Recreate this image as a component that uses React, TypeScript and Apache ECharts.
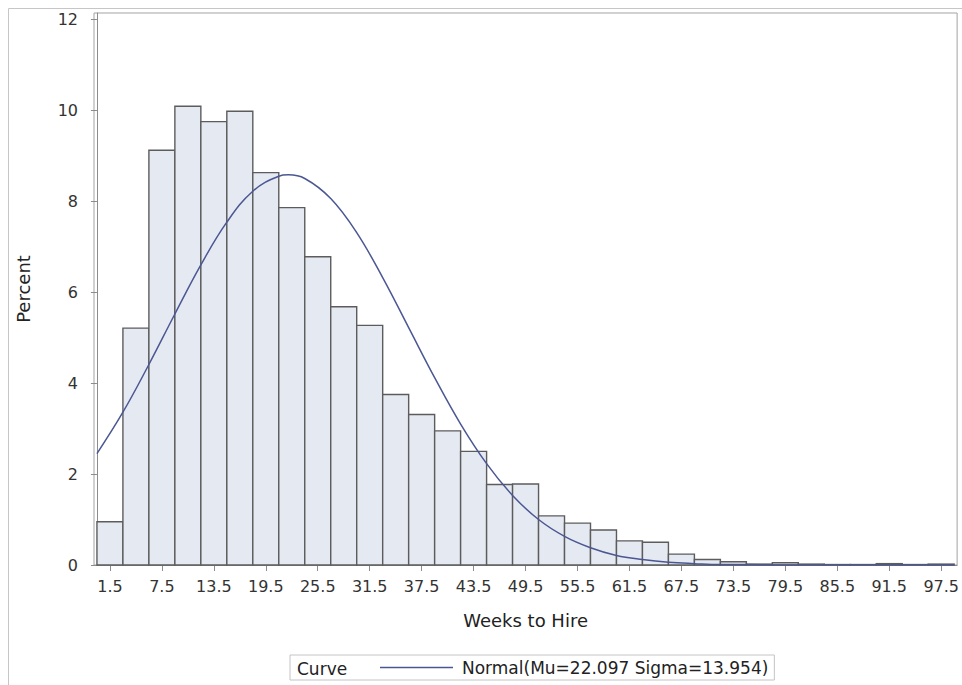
import React, { useEffect, useRef } from "react";
import * as echarts from "echarts";

const binCenters = [1.5, 4.5, 7.5, 10.5, 13.5, 16.5, 19.5, 22.5, 25.5, 28.5, 31.5, 34.5, 37.5, 40.5, 43.5, 46.5, 49.5, 52.5, 55.5, 58.5, 61.5, 64.5, 67.5, 70.5, 73.5, 76.5, 79.5, 82.5, 85.5, 88.5, 91.5, 94.5, 97.5];
const binPercent = [0.95, 5.21, 9.12, 10.09, 9.75, 9.98, 8.63, 7.86, 6.78, 5.68, 5.27, 3.75, 3.31, 2.95, 2.5, 1.77, 1.78, 1.08, 0.92, 0.77, 0.53, 0.5, 0.24, 0.12, 0.07, 0.02, 0.05, 0.02, 0.01, 0.01, 0.03, 0.01, 0.02];
const curveX = [0, 3, 6, 9, 12, 15, 18, 21, 22.1, 24, 27, 30, 33, 36, 39, 42, 45, 48, 51, 54, 57, 60, 63, 66, 69, 72, 75, 78, 81, 84, 87, 90, 93, 96, 99];
const curveY = [2.45, 3.36, 4.41, 5.52, 6.6, 7.54, 8.22, 8.55, 8.58, 8.5, 8.06, 7.31, 6.32, 5.22, 4.12, 3.1, 2.23, 1.53, 1.0, 0.63, 0.38, 0.21, 0.12, 0.06, 0.03, 0.01, 0.01, 0.0, 0.0, 0.0, 0.0, 0.0, 0.0, 0.0, 0.0];
const xTickLabels = [1.5, 7.5, 13.5, 19.5, 25.5, 31.5, 37.5, 43.5, 49.5, 55.5, 61.5, 67.5, 73.5, 79.5, 85.5, 91.5, 97.5];
const yTickLabels = [0, 2, 4, 6, 8, 10, 12];
const binWidth = 3;
const curveName = "Normal(Mu=22.097 Sigma=13.954)";

const FONT = "DejaVu Sans";

export default function App() {
  const ref = useRef<HTMLDivElement>(null);
  useEffect(() => {
    if (!ref.current) return;
    const chart = echarts.init(ref.current, null, { renderer: "svg" });
    chart.setOption({
      animation: false,
      backgroundColor: "#ffffff",
      textStyle: { fontFamily: FONT },
      grid: {
        left: 94,
        right: 1,
        top: 13,
        bottom: 120,
        show: true,
        borderColor: "#a3a3a3",
        borderWidth: 1,
        containLabel: false,
      },
      xAxis: {
        type: "value",
        min: -0.34,
        max: 99.34,
        name: "Weeks to Hire",
        nameLocation: "middle",
        nameGap: 46,
        nameTextStyle: { fontFamily: FONT, fontSize: 18, color: "#222" },
        axisLine: { show: true, lineStyle: { color: "#8c8c8c" } },
        axisTick: { show: true, length: 6, lineStyle: { color: "#8c8c8c" }, customValues: xTickLabels },
        axisLabel: { fontFamily: FONT, fontSize: 16, color: "#333", margin: 13, customValues: xTickLabels, formatter: (v: number) => v.toFixed(1) },
        splitLine: { show: false },
      },
      yAxis: {
        type: "value",
        min: 0,
        max: 12.14,
        name: "Percent",
        nameLocation: "middle",
        nameGap: 62,
        nameRotate: 90,
        nameTextStyle: { fontFamily: FONT, fontSize: 18, color: "#222" },
        axisLine: { show: true, lineStyle: { color: "#8c8c8c" } },
        axisTick: { show: true, length: 6, lineStyle: { color: "#8c8c8c" }, customValues: yTickLabels },
        axisLabel: { fontFamily: FONT, fontSize: 16, color: "#333", margin: 16, customValues: yTickLabels },
        splitLine: { show: false },
      },
      legend: {
        left: 290,
        top: 655,
        padding: [4, 6, 4, 90],
        borderColor: "#c4c4c4",
        borderWidth: 1,
        itemWidth: 73,
        itemHeight: 1.5,
        data: [{ name: curveName, icon: "rect" }],
        textStyle: { fontFamily: FONT, fontSize: 17, color: "#222", padding: [0, 0, 0, 4] },
        selectedMode: false,
      },
      graphic: [
        {
          type: "rect",
          silent: true,
          shape: { x: 8.5, y: 8.5, width: 1000, height: 1000 },
          style: { fill: "none", stroke: "#c6c6c6", lineWidth: 1 },
          z: 0,
        },
        {
          type: "text",
          silent: true,
          x: 297,
          y: 669,
          style: { text: "Curve", fontFamily: FONT, fontSize: 17, fill: "#222", verticalAlign: "middle", align: "left" },
          z: 10,
        },
      ],
      series: [
        {
          type: "custom",
          name: "bars",
          data: binCenters.map((c, i) => [c, binPercent[i]]),
          renderItem: (params: any, api: any) => {
            const c = api.value(0);
            const v = api.value(1);
            const p0 = api.coord([c - binWidth / 2, v]);
            const p1 = api.coord([c + binWidth / 2, 0]);
            return {
              type: "rect",
              shape: { x: p0[0], y: p0[1], width: p1[0] - p0[0], height: p1[1] - p0[1] },
              style: { fill: "#e5e9f2", stroke: "#5c5c5c", lineWidth: 1.4 },
            };
          },
          z: 2,
        },
        {
          type: "line",
          name: curveName,
          data: curveX.map((x, i) => [x, curveY[i]]),
          symbol: "none",
          smooth: 0.4,
          lineStyle: { color: "#4b5793", width: 1.5 },
          itemStyle: { color: "#4b5793" },
          z: 3,
        },
      ],
    });
    return () => chart.dispose();
  }, []);
  return <div ref={ref} style={{ position: "absolute", left: 0, top: 0, width: 962, height: 685 }} />;
}
